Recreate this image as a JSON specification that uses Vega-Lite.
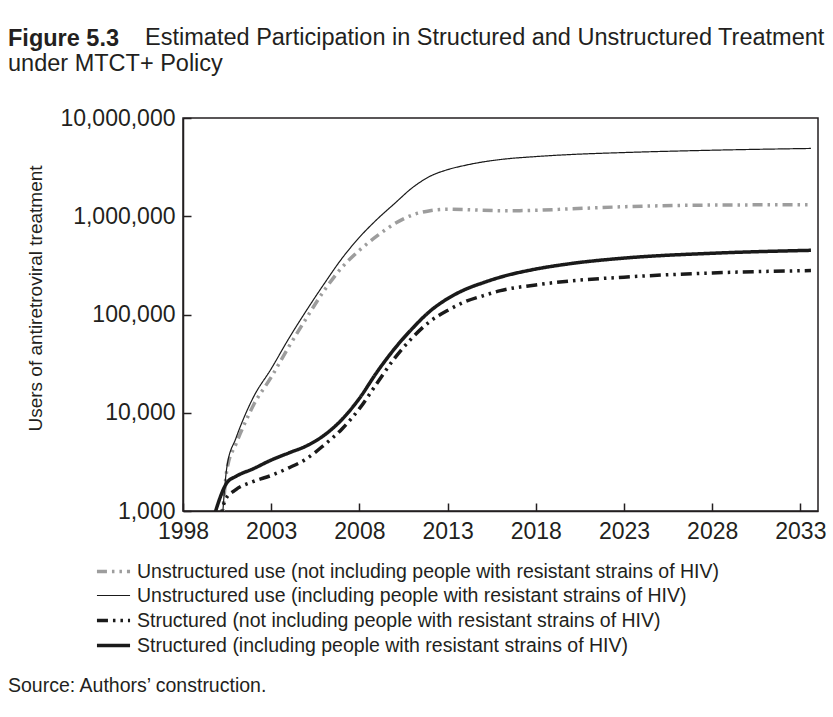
{
  "$schema": "https://vega.github.io/schema/vega-lite/v6.json",
  "autosize": {"type": "none"},
  "width": 635,
  "height": 393,
  "padding": {"left": 183, "right": 15, "top": 118, "bottom": 206},
  "background": "white",
  "title": {
    "text": "Figure 5.3",
    "subtitle": ["\u200b\u00a0\u00a0\u00a0\u00a0\u00a0\u00a0\u00a0\u00a0\u00a0\u00a0\u00a0\u00a0\u00a0\u00a0\u00a0\u00a0\u00a0\u00a0\u00a0\u00a0\u00a0Estimated Participation in Structured and Unstructured Treatment", "under MTCT+ Policy"],
    "anchor": "start",
    "frame": "group",
    "dx": -175,
    "offset": 31,
    "font": "Liberation Sans",
    "fontSize": 23.5,
    "fontWeight": "bold",
    "color": "#231f20",
    "subtitleFont": "Liberation Sans",
    "subtitleFontSize": 23.5,
    "subtitleFontWeight": "normal",
    "subtitleColor": "#231f20",
    "subtitleLineHeight": 26,
    "subtitlePadding": -24
  },
  "data": {
    "values": [
      {"series": "Unstructured use (not including people with resistant strains of HIV)", "year": 2000.2, "value": 700},
      {"series": "Unstructured use (not including people with resistant strains of HIV)", "year": 2000.5, "value": 2700},
      {"series": "Unstructured use (not including people with resistant strains of HIV)", "year": 2001, "value": 4800},
      {"series": "Unstructured use (not including people with resistant strains of HIV)", "year": 2001.5, "value": 7800},
      {"series": "Unstructured use (not including people with resistant strains of HIV)", "year": 2002, "value": 12000},
      {"series": "Unstructured use (not including people with resistant strains of HIV)", "year": 2003, "value": 23000},
      {"series": "Unstructured use (not including people with resistant strains of HIV)", "year": 2004, "value": 47000},
      {"series": "Unstructured use (not including people with resistant strains of HIV)", "year": 2005, "value": 92000},
      {"series": "Unstructured use (not including people with resistant strains of HIV)", "year": 2006, "value": 175000},
      {"series": "Unstructured use (not including people with resistant strains of HIV)", "year": 2007, "value": 300000},
      {"series": "Unstructured use (not including people with resistant strains of HIV)", "year": 2008, "value": 450000},
      {"series": "Unstructured use (not including people with resistant strains of HIV)", "year": 2009, "value": 630000},
      {"series": "Unstructured use (not including people with resistant strains of HIV)", "year": 2010, "value": 840000},
      {"series": "Unstructured use (not including people with resistant strains of HIV)", "year": 2011, "value": 1030000},
      {"series": "Unstructured use (not including people with resistant strains of HIV)", "year": 2012, "value": 1140000},
      {"series": "Unstructured use (not including people with resistant strains of HIV)", "year": 2013, "value": 1180000},
      {"series": "Unstructured use (not including people with resistant strains of HIV)", "year": 2014, "value": 1170000},
      {"series": "Unstructured use (not including people with resistant strains of HIV)", "year": 2015, "value": 1150000},
      {"series": "Unstructured use (not including people with resistant strains of HIV)", "year": 2016, "value": 1140000},
      {"series": "Unstructured use (not including people with resistant strains of HIV)", "year": 2017, "value": 1140000},
      {"series": "Unstructured use (not including people with resistant strains of HIV)", "year": 2018, "value": 1150000},
      {"series": "Unstructured use (not including people with resistant strains of HIV)", "year": 2020, "value": 1190000},
      {"series": "Unstructured use (not including people with resistant strains of HIV)", "year": 2023, "value": 1250000},
      {"series": "Unstructured use (not including people with resistant strains of HIV)", "year": 2028, "value": 1300000},
      {"series": "Unstructured use (not including people with resistant strains of HIV)", "year": 2033.6, "value": 1310000},

      {"series": "Unstructured use (including people with resistant strains of HIV)", "year": 2000.2, "value": 700},
      {"series": "Unstructured use (including people with resistant strains of HIV)", "year": 2000.5, "value": 2900},
      {"series": "Unstructured use (including people with resistant strains of HIV)", "year": 2001, "value": 5500},
      {"series": "Unstructured use (including people with resistant strains of HIV)", "year": 2001.5, "value": 9300},
      {"series": "Unstructured use (including people with resistant strains of HIV)", "year": 2002, "value": 14500},
      {"series": "Unstructured use (including people with resistant strains of HIV)", "year": 2003, "value": 28000},
      {"series": "Unstructured use (including people with resistant strains of HIV)", "year": 2004, "value": 57000},
      {"series": "Unstructured use (including people with resistant strains of HIV)", "year": 2005, "value": 110000},
      {"series": "Unstructured use (including people with resistant strains of HIV)", "year": 2006, "value": 205000},
      {"series": "Unstructured use (including people with resistant strains of HIV)", "year": 2007, "value": 370000},
      {"series": "Unstructured use (including people with resistant strains of HIV)", "year": 2008, "value": 610000},
      {"series": "Unstructured use (including people with resistant strains of HIV)", "year": 2009, "value": 930000},
      {"series": "Unstructured use (including people with resistant strains of HIV)", "year": 2010, "value": 1350000},
      {"series": "Unstructured use (including people with resistant strains of HIV)", "year": 2011, "value": 1950000},
      {"series": "Unstructured use (including people with resistant strains of HIV)", "year": 2012, "value": 2550000},
      {"series": "Unstructured use (including people with resistant strains of HIV)", "year": 2013, "value": 2980000},
      {"series": "Unstructured use (including people with resistant strains of HIV)", "year": 2014, "value": 3300000},
      {"series": "Unstructured use (including people with resistant strains of HIV)", "year": 2015, "value": 3570000},
      {"series": "Unstructured use (including people with resistant strains of HIV)", "year": 2016, "value": 3780000},
      {"series": "Unstructured use (including people with resistant strains of HIV)", "year": 2018, "value": 4050000},
      {"series": "Unstructured use (including people with resistant strains of HIV)", "year": 2020, "value": 4250000},
      {"series": "Unstructured use (including people with resistant strains of HIV)", "year": 2023, "value": 4450000},
      {"series": "Unstructured use (including people with resistant strains of HIV)", "year": 2028, "value": 4700000},
      {"series": "Unstructured use (including people with resistant strains of HIV)", "year": 2033.6, "value": 4900000},

      {"series": "Structured (not including people with resistant strains of HIV)", "year": 2000.1, "value": 800},
      {"series": "Structured (not including people with resistant strains of HIV)", "year": 2000.4, "value": 1300},
      {"series": "Structured (not including people with resistant strains of HIV)", "year": 2001, "value": 1650},
      {"series": "Structured (not including people with resistant strains of HIV)", "year": 2002, "value": 2000},
      {"series": "Structured (not including people with resistant strains of HIV)", "year": 2003, "value": 2300},
      {"series": "Structured (not including people with resistant strains of HIV)", "year": 2004, "value": 2750},
      {"series": "Structured (not including people with resistant strains of HIV)", "year": 2005, "value": 3400},
      {"series": "Structured (not including people with resistant strains of HIV)", "year": 2006, "value": 4700},
      {"series": "Structured (not including people with resistant strains of HIV)", "year": 2007, "value": 6800},
      {"series": "Structured (not including people with resistant strains of HIV)", "year": 2008, "value": 11000},
      {"series": "Structured (not including people with resistant strains of HIV)", "year": 2009, "value": 20000},
      {"series": "Structured (not including people with resistant strains of HIV)", "year": 2010, "value": 36000},
      {"series": "Structured (not including people with resistant strains of HIV)", "year": 2011, "value": 58000},
      {"series": "Structured (not including people with resistant strains of HIV)", "year": 2012, "value": 85000},
      {"series": "Structured (not including people with resistant strains of HIV)", "year": 2013, "value": 110000},
      {"series": "Structured (not including people with resistant strains of HIV)", "year": 2014, "value": 135000},
      {"series": "Structured (not including people with resistant strains of HIV)", "year": 2015, "value": 155000},
      {"series": "Structured (not including people with resistant strains of HIV)", "year": 2016, "value": 175000},
      {"series": "Structured (not including people with resistant strains of HIV)", "year": 2018, "value": 200000},
      {"series": "Structured (not including people with resistant strains of HIV)", "year": 2020, "value": 220000},
      {"series": "Structured (not including people with resistant strains of HIV)", "year": 2023, "value": 240000},
      {"series": "Structured (not including people with resistant strains of HIV)", "year": 2028, "value": 265000},
      {"series": "Structured (not including people with resistant strains of HIV)", "year": 2033.6, "value": 280000},

      {"series": "Structured (including people with resistant strains of HIV)", "year": 1999.5, "value": 600},
      {"series": "Structured (including people with resistant strains of HIV)", "year": 1999.85, "value": 1000},
      {"series": "Structured (including people with resistant strains of HIV)", "year": 2000.5, "value": 1950},
      {"series": "Structured (including people with resistant strains of HIV)", "year": 2001, "value": 2250},
      {"series": "Structured (including people with resistant strains of HIV)", "year": 2002, "value": 2700},
      {"series": "Structured (including people with resistant strains of HIV)", "year": 2003, "value": 3300},
      {"series": "Structured (including people with resistant strains of HIV)", "year": 2004, "value": 3900},
      {"series": "Structured (including people with resistant strains of HIV)", "year": 2005, "value": 4600},
      {"series": "Structured (including people with resistant strains of HIV)", "year": 2006, "value": 5900},
      {"series": "Structured (including people with resistant strains of HIV)", "year": 2007, "value": 8500},
      {"series": "Structured (including people with resistant strains of HIV)", "year": 2008, "value": 14000},
      {"series": "Structured (including people with resistant strains of HIV)", "year": 2009, "value": 26000},
      {"series": "Structured (including people with resistant strains of HIV)", "year": 2010, "value": 45000},
      {"series": "Structured (including people with resistant strains of HIV)", "year": 2011, "value": 72000},
      {"series": "Structured (including people with resistant strains of HIV)", "year": 2012, "value": 108000},
      {"series": "Structured (including people with resistant strains of HIV)", "year": 2013, "value": 145000},
      {"series": "Structured (including people with resistant strains of HIV)", "year": 2014, "value": 180000},
      {"series": "Structured (including people with resistant strains of HIV)", "year": 2015, "value": 210000},
      {"series": "Structured (including people with resistant strains of HIV)", "year": 2016, "value": 240000},
      {"series": "Structured (including people with resistant strains of HIV)", "year": 2018, "value": 290000},
      {"series": "Structured (including people with resistant strains of HIV)", "year": 2020, "value": 330000},
      {"series": "Structured (including people with resistant strains of HIV)", "year": 2023, "value": 375000},
      {"series": "Structured (including people with resistant strains of HIV)", "year": 2028, "value": 420000},
      {"series": "Structured (including people with resistant strains of HIV)", "year": 2033.6, "value": 450000}
    ]
  },
  "mark": {"type": "line", "clip": true, "interpolate": "monotone", "strokeCap": "butt"},
  "encoding": {
    "x": {
      "field": "year", "type": "quantitative",
      "scale": {"domain": [1998, 2034], "nice": false, "zero": false},
      "axis": {"values": [1998, 2003, 2008, 2013, 2018, 2023, 2028, 2033], "format": "d", "title": null, "labelFlush": false, "labelOverlap": false, "labelPadding": 17}
    },
    "y": {
      "field": "value", "type": "quantitative",
      "scale": {"type": "log", "domain": [1000, 10000000], "nice": false},
      "axis": {"values": [1000, 10000, 100000, 1000000, 10000000], "format": ",", "title": "Users of antiretroviral treatment", "labelFlush": false, "labelOverlap": false, "labelPadding": 16, "titlePadding": 14, "titleY": 180, "titleFontSize": 19, "titleFontWeight": "normal"}
    },
    "order": {"field": "year", "type": "quantitative"},
    "color": {
      "field": "series", "type": "nominal",
      "scale": {"domain": ["Unstructured use (not including people with resistant strains of HIV)", "Unstructured use (including people with resistant strains of HIV)", "Structured (not including people with resistant strains of HIV)", "Structured (including people with resistant strains of HIV)"], "range": ["#9d9d9d", "#1a1a1a", "#1a1a1a", "#1a1a1a"]},
      "legend": {"title": "Source: Authors’ construction."}
    },
    "strokeDash": {
      "field": "series", "type": "nominal",
      "scale": {"domain": ["Unstructured use (not including people with resistant strains of HIV)", "Unstructured use (including people with resistant strains of HIV)", "Structured (not including people with resistant strains of HIV)", "Structured (including people with resistant strains of HIV)"], "range": [[10, 5, 2.5, 5, 2.5, 5], [1, 0], [11, 5, 2.5, 5, 2.5, 5], [1, 0]]},
      "legend": {"title": "Source: Authors’ construction."}
    },
    "strokeWidth": {
      "field": "series", "type": "nominal",
      "scale": {"type": "ordinal", "domain": ["Unstructured use (not including people with resistant strains of HIV)", "Unstructured use (including people with resistant strains of HIV)", "Structured (not including people with resistant strains of HIV)", "Structured (including people with resistant strains of HIV)"], "range": [3.5, 1.2, 3.5, 3.5]},
      "legend": {"title": "Source: Authors’ construction."}
    }
  },
  "config": {
    "font": "Liberation Sans",
    "view": {"stroke": "#231f20", "strokeWidth": 1.5},
    "axis": {
      "grid": false,
      "labelFont": "Liberation Sans",
      "labelFontSize": 23,
      "labelColor": "#231f20",
      "titleFont": "Liberation Sans",
      "titleColor": "#231f20",
      "domainColor": "#231f20",
      "domainWidth": 1.5,
      "tickColor": "#231f20",
      "tickWidth": 1.5,
      "tickSize": -8
    },
    "legend": {
      "orient": "none",
      "legendX": -175,
      "legendY": 440,
      "direction": "vertical",
      "titleOrient": "bottom",
      "titleAnchor": "start",
      "titleFont": "Liberation Sans",
      "titleFontSize": 19.5,
      "titleFontWeight": "normal",
      "titleColor": "#231f20",
      "titlePadding": 22,
      "titleLimit": 800,
      "labelFont": "Liberation Sans",
      "labelFontSize": 19.5,
      "labelColor": "#231f20",
      "labelLimit": 800,
      "symbolType": "M-1.42,0H1.42",
      "symbolSize": 543,
      "symbolOffset": 92,
      "labelOffset": 10,
      "rowPadding": 2
    }
  }
}
